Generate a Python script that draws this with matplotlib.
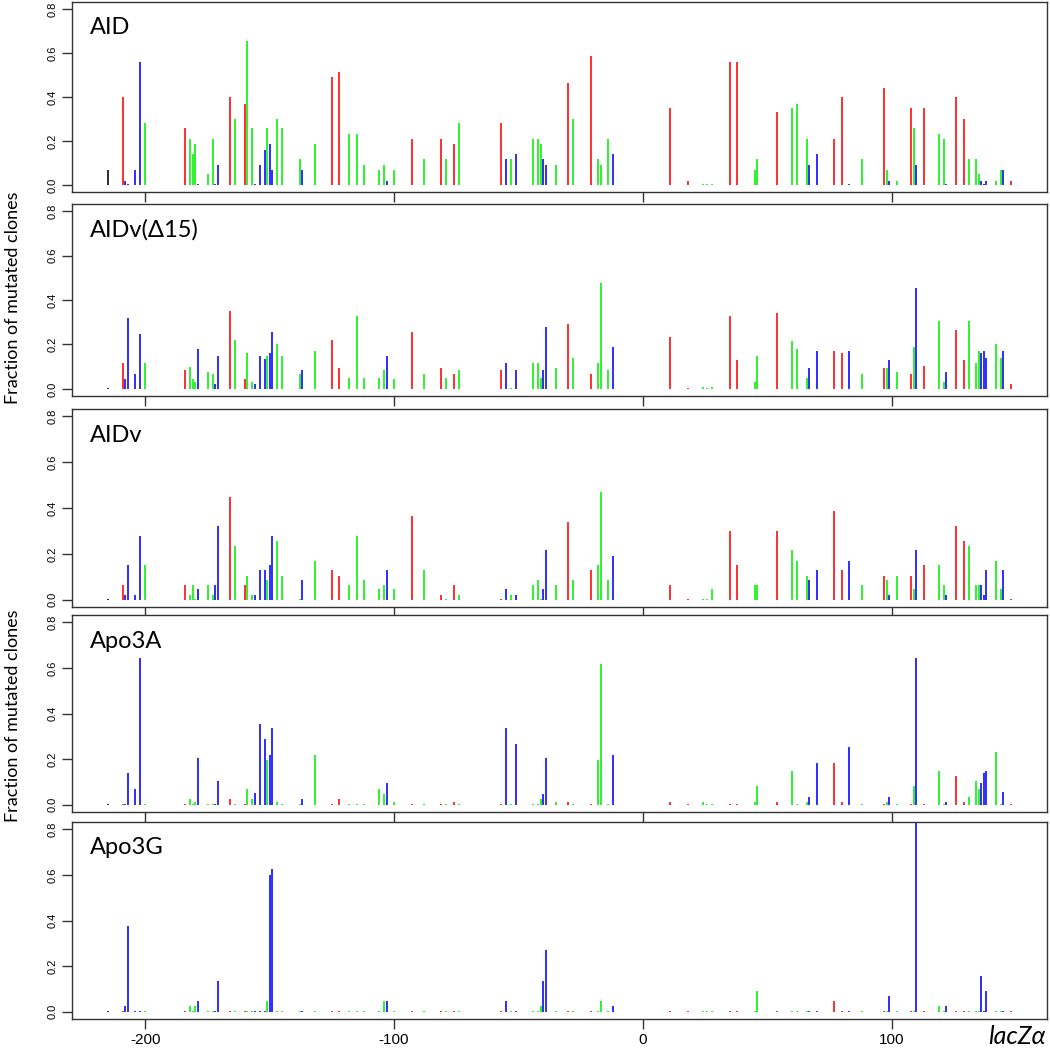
import matplotlib
matplotlib.use("Agg")
import matplotlib.pyplot as plt

plt.rcParams['axes.unicode_minus'] = False

# mutation sites along lacZ alpha (position, colour by base)
positions = [-215, -209, -208, -207, -204, -202, -200, -184, -182, -181,
             -180, -179, -175, -173, -172, -171, -166, -164, -160, -159,
             -157, -156, -154, -152, -151, -150, -149, -147, -145, -138,
             -137, -132, -125, -122, -118, -115, -112, -106, -104, -103,
             -100, -93, -88, -81, -79, -76, -74, -57, -55, -53,
             -51, -44, -42, -41, -40, -39, -35, -30, -28, -21,
             -18, -17, -14, -12, 11, 18, 24, 26, 28, 35,
             38, 45, 46, 54, 60, 62, 66, 67, 70, 77,
             80, 83, 88, 97, 98, 99, 102, 108, 109, 110,
             113, 119, 121, 122, 126, 129, 131, 134, 135, 136,
             137, 138, 142, 144, 145, 148]

site_colors = list("krbbbbgrgg"
                   "gbggbbrgrg"
                   "gbbbgbbggg"
                   "bgrrgggggb"
                   "grgrgrgrbg"
                   "bgggbbgrgr"
                   "gggbrrgggr"
                   "rggrgggbbr"
                   "rbgrgbgrgb"
                   "rggbrrgggb"
                   "bbggbr")

aid = [0.07, 0.40, 0.02, 0.005, 0.07, 0.56, 0.28, 0.26, 0.21, 0.14,
       0.185, 0.005, 0.05, 0.21, 0.005, 0.09, 0.40, 0.30, 0.37, 0.655,
       0.26, 0.005, 0.09, 0.16, 0.26, 0.185, 0.07, 0.30, 0.26, 0.12,
       0.07, 0.185, 0.49, 0.515, 0.23, 0.23, 0.09, 0.07, 0.09, 0.02,
       0.07, 0.21, 0.12, 0.21, 0.12, 0.185, 0.28, 0.28, 0.12, 0.12,
       0.14, 0.21, 0.21, 0.185, 0.12, 0.09, 0.09, 0.465, 0.30, 0.585,
       0.12, 0.09, 0.21, 0.14, 0.35, 0.02, 0.005, 0.005, 0.005, 0.56,
       0.56, 0.07, 0.12, 0.33, 0.35, 0.37, 0.21, 0.09, 0.14, 0.21,
       0.40, 0.005, 0.12, 0.44, 0.07, 0.02, 0.02, 0.35, 0.26, 0.09,
       0.35, 0.23, 0.21, 0.005, 0.40, 0.30, 0.12, 0.12, 0.05, 0.02,
       0.005, 0.02, 0.02, 0.07, 0.07, 0.02]

aidv_d15 = [0.005, 0.115, 0.045, 0.32, 0.065, 0.245, 0.115, 0.085, 0.10, 0.045,
            0.03, 0.18, 0.075, 0.065, 0.02, 0.15, 0.35, 0.22, 0.045, 0.16,
            0.03, 0.02, 0.15, 0.135, 0.15, 0.16, 0.255, 0.20, 0.15, 0.065,
            0.085, 0.17, 0.22, 0.095, 0.05, 0.33, 0.05, 0.05, 0.085, 0.15,
            0.045, 0.255, 0.065, 0.095, 0.05, 0.065, 0.085, 0.085, 0.115, 0.005,
            0.085, 0.115, 0.115, 0.05, 0.085, 0.28, 0.095, 0.29, 0.14, 0.065,
            0.115, 0.475, 0.085, 0.19, 0.235, 0.005, 0.01, 0.005, 0.01, 0.33,
            0.13, 0.03, 0.15, 0.34, 0.215, 0.18, 0.05, 0.095, 0.17, 0.17,
            0.16, 0.17, 0.065, 0.095, 0.095, 0.13, 0.075, 0.065, 0.19, 0.455,
            0.105, 0.305, 0.03, 0.075, 0.265, 0.13, 0.305, 0.115, 0.17, 0.16,
            0.17, 0.14, 0.20, 0.14, 0.17, 0.02]

aidv = [0.005, 0.065, 0.02, 0.15, 0.02, 0.28, 0.15, 0.065, 0.02, 0.065,
        0.005, 0.045, 0.065, 0.02, 0.065, 0.32, 0.45, 0.235, 0.065, 0.105,
        0.02, 0.02, 0.13, 0.13, 0.085, 0.15, 0.28, 0.255, 0.105, 0.005,
        0.085, 0.17, 0.13, 0.105, 0.065, 0.28, 0.085, 0.045, 0.065, 0.13,
        0.045, 0.365, 0.13, 0.02, 0.005, 0.065, 0.02, 0.005, 0.045, 0.02,
        0.02, 0.065, 0.085, 0.005, 0.045, 0.215, 0.065, 0.34, 0.085, 0.13,
        0.15, 0.47, 0.085, 0.19, 0.065, 0.005, 0.005, 0.005, 0.045, 0.30,
        0.15, 0.065, 0.065, 0.30, 0.215, 0.17, 0.105, 0.085, 0.13, 0.385,
        0.13, 0.17, 0.065, 0.105, 0.085, 0.02, 0.105, 0.105, 0.045, 0.215,
        0.15, 0.15, 0.065, 0.02, 0.32, 0.255, 0.235, 0.065, 0.065, 0.065,
        0.02, 0.13, 0.17, 0.045, 0.13, 0.005]

apo3a = [0.005, 0.005, 0.005, 0.14, 0.07, 0.645, 0.005, 0.005, 0.025, 0.005,
         0.01, 0.205, 0.005, 0.005, 0.005, 0.105, 0.025, 0.005, 0.005, 0.07,
         0.025, 0.05, 0.355, 0.29, 0.195, 0.22, 0.335, 0.01, 0.005, 0.005,
         0.025, 0.22, 0.005, 0.025, 0.005, 0.005, 0.005, 0.07, 0.045, 0.095,
         0.01, 0.005, 0.005, 0.005, 0.005, 0.01, 0.005, 0.005, 0.335, 0.005,
         0.265, 0.005, 0.005, 0.025, 0.045, 0.205, 0.01, 0.01, 0.005, 0.005,
         0.195, 0.615, 0.005, 0.22, 0.01, 0.005, 0.01, 0.005, 0.005, 0.005,
         0.005, 0.01, 0.08, 0.01, 0.15, 0.005, 0.01, 0.035, 0.185, 0.185,
         0.01, 0.255, 0.005, 0.005, 0.01, 0.035, 0.005, 0.005, 0.08, 0.645,
         0.005, 0.15, 0.005, 0.01, 0.125, 0.01, 0.035, 0.105, 0.07, 0.095,
         0.14, 0.15, 0.23, 0.005, 0.055, 0.005]

apo3g = [0.005, 0.005, 0.025, 0.375, 0.005, 0.005, 0.005, 0.005, 0.025, 0.005,
         0.025, 0.045, 0.005, 0.005, 0.005, 0.135, 0.005, 0.005, 0.005, 0.005,
         0.005, 0.005, 0.005, 0.005, 0.045, 0.60, 0.625, 0.005, 0.005, 0.005,
         0.005, 0.005, 0.005, 0.005, 0.005, 0.005, 0.005, 0.005, 0.045, 0.045,
         0.005, 0.005, 0.005, 0.005, 0.005, 0.005, 0.005, 0.005, 0.045, 0.005,
         0.005, 0.005, 0.005, 0.025, 0.135, 0.27, 0.005, 0.005, 0.005, 0.005,
         0.005, 0.045, 0.005, 0.025, 0.005, 0.005, 0.005, 0.005, 0.005, 0.005,
         0.005, 0.005, 0.09, 0.005, 0.005, 0.005, 0.005, 0.005, 0.005, 0.045,
         0.005, 0.005, 0.005, 0.005, 0.005, 0.07, 0.005, 0.005, 0.005, 0.85,
         0.005, 0.025, 0.005, 0.025, 0.005, 0.005, 0.005, 0.005, 0.005, 0.155,
         0.005, 0.09, 0.005, 0.005, 0.005, 0.005]

panel_names = ["AID", "AIDv(\u039415)", "AIDv", "Apo3A", "Apo3G"]
panel_data = [aid, aidv_d15, aidv, apo3a, apo3g]
y_ticks = [0.0, 0.2, 0.4, 0.6, 0.8]
x_ticks = [-200, -100, 0, 100]

cmap = {'r': '#FF0000', 'g': '#00EE00', 'b': '#0000FF', 'k': '#000000'}
bar_colors = [cmap[c] for c in site_colors]

label_font = ['Lato', 'DejaVu Sans']
tick_font = 'Liberation Sans'

fig = plt.figure(figsize=(10.5, 10.5), dpi=100, facecolor='white')

boxes = [(2, 192), (204, 396), (409, 607), (615, 812), (822, 1019)]
left, right = 72, 1047
W = H = 1050.0

for i, (name, vals) in enumerate(zip(panel_names, panel_data)):
    top, bot = boxes[i]
    ax = fig.add_axes([left / W, 1 - bot / H, (right - left) / W, (bot - top) / H])
    ax.vlines(positions, 0, vals, colors=bar_colors, lw=1.15)
    ax.set_xlim(-229.5, 162.5)
    ax.set_ylim(-0.032, 0.832)
    ax.set_yticks(y_ticks)
    ax.set_yticklabels(["%.1f" % t for t in y_ticks], rotation=90, va='center',
                       fontsize=8, family=tick_font)
    ax.set_xticks(x_ticks)
    if i == 4:
        ax.set_xticklabels([str(t) for t in x_ticks], fontsize=11, family=tick_font)
    else:
        ax.set_xticklabels([])
    ax.tick_params(direction='out', length=7, width=1, color='#333333', pad=3)
    for s in ax.spines.values():
        s.set_linewidth(1.0)
        s.set_color('#333333')
    ax.text(0.018, 1 - 26.0 / (bot - top), name, transform=ax.transAxes,
            ha='left', va='center', fontsize=17, family=label_font)

fig.text(0.012, 1 - 298 / H, "Fraction of mutated clones", rotation=90,
         ha='center', va='center', fontsize=13, family=label_font)
fig.text(0.012, 1 - 716 / H, "Fraction of mutated clones", rotation=90,
         ha='center', va='center', fontsize=13, family=label_font)
fig.text(988 / W, 0.002, "lacZ\u03b1", ha='left', va='bottom', fontsize=18,
         style='italic', family=label_font)

fig.savefig("out.png", dpi=100, facecolor='white')
